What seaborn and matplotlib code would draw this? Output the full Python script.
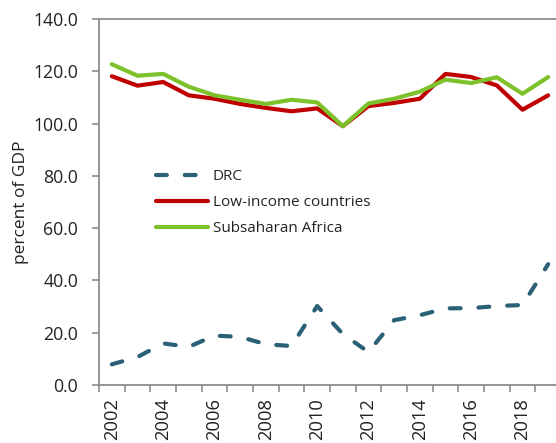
import numpy as np
import pandas as pd
import matplotlib
matplotlib.use("Agg")
import matplotlib.pyplot as plt
import seaborn as sns

# valores (porcentaje del PIB)
years = list(range(2002, 2020))
drc = [7.9, 10.7, 15.9, 14.6, 18.9, 18.4, 15.6, 14.9, 30.2, 19.5, 12.6,
       24.8, 26.7, 29.3, 29.4, 30.2, 30.6, 46.2]
low_income = [118.1, 114.5, 115.9, 110.8, 109.5, 107.5, 106.0, 104.7, 105.8,
              99.0, 106.7, 107.9, 109.5, 119.0, 117.8, 114.6, 105.3, 110.8]
subsaharan = [122.7, 118.3, 119.0, 114.1, 110.8, 109.1, 107.5, 109.1, 108.1,
              99.0, 107.7, 109.5, 112.2, 116.8, 115.5, 117.7, 111.4, 117.8]
year_labels = [str(y) for y in range(2002, 2020, 2)]

df = pd.DataFrame({"year": years, "DRC": drc,
                   "Low-income countries": low_income,
                   "Subsaharan Africa": subsaharan})

sns.set_theme(style="white")
plt.rcParams["font.family"] = ["Open Sans", "DejaVu Sans"]

fig = plt.figure(figsize=(5.56, 4.43), dpi=100)
ax = fig.add_axes([99 / 556, 1 - 385 / 443, 462 / 556, 366 / 443])

lw = 3.0
sns.lineplot(data=df, x="year", y="DRC", ax=ax, color="#2B6177", lw=lw,
             linestyle=(0, (2.6, 4.3)), dash_capstyle="round", label="DRC")
sns.lineplot(data=df, x="year", y="Low-income countries", ax=ax, color="#C00000",
             lw=lw, solid_joinstyle="round", label="Low-income countries")
sns.lineplot(data=df, x="year", y="Subsaharan Africa", ax=ax, color="#7DC22B",
             lw=lw, solid_joinstyle="round", label="Subsaharan Africa")

ax.set_xlim(2001.5, 2019.5)
ax.set_ylim(0, 140)

# marcas de eje entre categorias, etiquetas en anos pares
ax.set_xticks(np.arange(2001.5, 2020, 1.0))
ax.set_xticklabels([])
ax.set_xticks(range(2002, 2020, 2), minor=True)
ax.set_xticklabels(year_labels, minor=True, rotation=90, fontsize=13.2,
                   color="#222222")
ax.tick_params(axis="x", which="major", length=5, width=1.2, color="#8c8c8c",
               direction="out", bottom=True)
ax.tick_params(axis="x", which="minor", length=0, pad=9.5)

ax.set_yticks(np.arange(0, 141, 20))
ax.set_yticklabels([f"{v:.1f}" for v in np.arange(0, 141, 20)], fontsize=12.7,
                   color="#222222")
ax.tick_params(axis="y", length=5, width=1.2, color="#8c8c8c", direction="out",
               left=True, pad=10)

for side in ["left", "bottom", "top"]:
    ax.spines[side].set_color("#8c8c8c")
    ax.spines[side].set_linewidth(1.3)
ax.spines["right"].set_visible(False)

ax.set_xlabel("")
ax.set_ylabel("percent of GDP", fontsize=12.5, color="#222222")
ax.yaxis.set_label_coords(-0.152, 0.5)

ax.legend(loc="upper left", bbox_to_anchor=(0.1234, 0.589), frameon=False,
          fontsize=11, handlelength=3.4, handletextpad=0.3, borderpad=0,
          borderaxespad=0, labelspacing=0.72, labelcolor="#222222")

fig.savefig("out.png", dpi=100)
